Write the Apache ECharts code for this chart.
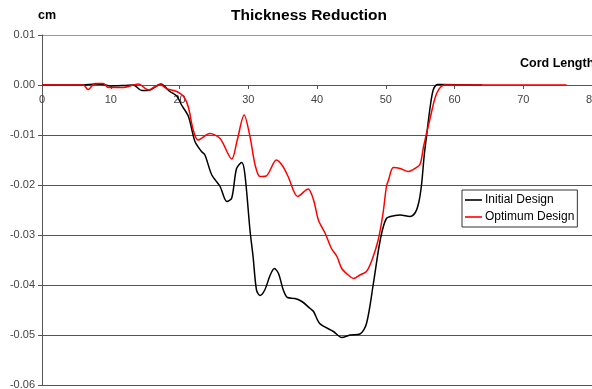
<!DOCTYPE html>
<html>
<head>
<meta charset="utf-8">
<script src="https://cdn.jsdelivr.net/npm/echarts@6/dist/echarts.min.js"></script>
<style>
  html, body { margin: 0; padding: 0; background: #fff; }
  #chart { width: 592px; height: 389px; }
</style>
</head>
<body>
<div id="chart"></div>
<script>
// Cord length positions and thickness reduction (cm) for each design
const initialX = [0, 6, 7.7, 9.0, 9.9, 12, 13.3, 14.5, 15.7, 16.9, 17.3, 18.6, 19.6, 20.3, 21.3, 22.25, 23.2, 23.7, 24.7, 25.9, 26.9, 27.6, 28.3, 29.05, 29.5, 30.25, 30.7, 31.2, 31.7, 32.4, 33.2, 33.8, 34.4, 35.1, 35.7, 36.8, 37.8, 39, 39.5, 40.4, 42.4, 43.6, 44.8, 46.25, 47.2, 48.2, 49.2, 50.1, 51.35, 52.1, 53.5, 54.3, 54.8, 55.2, 55.6, 55.95, 56.4, 56.9, 57.5, 58, 64];
const initialY = [0, 0, 0.0002, 0.0001, -0.0002, -0.0001, 0, -0.0011, -0.001, 0, 0.0002, -0.0013, -0.0022, -0.0040, -0.0063, -0.0113, -0.0133, -0.014, -0.018, -0.0203, -0.0233, -0.0226, -0.0167, -0.0155, -0.0177, -0.029, -0.0343, -0.041, -0.0421, -0.041, -0.038, -0.0367, -0.0377, -0.041, -0.0425, -0.0427, -0.0433, -0.0447, -0.0453, -0.0477, -0.0493, -0.0505, -0.0500, -0.0498, -0.0477, -0.0397, -0.031, -0.0267, -0.0261, -0.026, -0.0263, -0.0255, -0.0235, -0.02, -0.014, -0.01, -0.005, -0.001, 0.0001, 0.0001, 0];

const optimumX = [0, 6.0, 6.7, 7.7, 8.9, 9.65, 11.8, 13.3, 14.0, 15.5, 16.2, 17.2, 18.1, 19.6, 20.6, 21.3, 22.0, 22.7, 24.4, 25.9, 27.6, 28.4, 29.4, 30.25, 31.0, 31.7, 32.6, 34.1, 35.0, 35.8, 37.2, 38.7, 39.5, 40.2, 41.2, 42.1, 42.9, 43.6, 44.55, 45.3, 46.25, 47.2, 48, 48.9, 49.6, 50.1, 50.4, 51.1, 52.1, 53.3, 54.25, 55, 55.5, 56.4, 57.4, 58.6, 76.3];
const optimumY = [0, 0, -0.0009, 0.0003, 0.0003, -0.0005, -0.0005, 0, 0.0002, -0.001, -0.0005, 0.0001, -0.0007, -0.0013, -0.0023, -0.0045, -0.009, -0.011, -0.0097, -0.0107, -0.0148, -0.011, -0.006, -0.0103, -0.016, -0.0183, -0.0182, -0.015, -0.0162, -0.0183, -0.0223, -0.0208, -0.023, -0.027, -0.0297, -0.0327, -0.0343, -0.0367, -0.038, -0.0387, -0.038, -0.0373, -0.035, -0.031, -0.0257, -0.0203, -0.019, -0.0165, -0.0167, -0.0173, -0.0167, -0.0158, -0.0123, -0.007, -0.0017, 0, 0];

const seriesNames = ['Initial Design', 'Optimum Design'];
const xTicks = { min: 0, max: 80, step: 10 };
const yTicks = { min: -0.06, max: 0.01, step: 0.01 };

const pairs = (xs, ys) => xs.map((x, i) => [x, ys[i]]);

const FONT = '"Liberation Sans", Arial, sans-serif';
const GRID = { left: 42, top: 35, width: 550, height: 350 };
// the cord-length axis sits on the zero line: 0.00 lies 0.01 below the top edge
const zeroOffset = -GRID.height * (0 - yTicks.min) / (yTicks.max - yTicks.min);

const chart = echarts.init(document.getElementById('chart'), null, { renderer: 'canvas' });

chart.setOption({
  animation: false,
  backgroundColor: '#ffffff',
  textStyle: { fontFamily: FONT },
  title: [
    {
      text: 'Thickness Reduction',
      left: 304, top: 3, textAlign: 'center',
      textStyle: { fontFamily: FONT, fontSize: 15.5, fontWeight: 'bold', color: '#000' }
    },
    {
      text: 'cm',
      left: 42, top: 4, textAlign: 'center',
      textStyle: { fontFamily: FONT, fontSize: 12.5, fontWeight: 'bold', color: '#000' }
    },
    {
      text: 'Cord Length',
      left: 515, top: 52,
      textStyle: { fontFamily: FONT, fontSize: 12.5, fontWeight: 'bold', color: '#000' }
    }
  ],
  legend: {
    orient: 'vertical',
    left: 462, top: 190,
    data: seriesNames,
    icon: 'rect',
    itemWidth: 17, itemHeight: 1.6,
    itemGap: 3,
    padding: [3, 3, 3, 3],
    borderColor: '#333', borderWidth: 1,
    backgroundColor: '#fff',
    textStyle: { fontFamily: FONT, fontSize: 12, color: '#000', padding: [0, 0, 0, -2], lineHeight: 14 }
  },
  grid: Object.assign({ containLabel: false, outerBoundsMode: 'none' }, GRID),
  xAxis: {
    type: 'value',
    position: 'bottom',
    offset: zeroOffset,
    min: xTicks.min, max: xTicks.max, interval: xTicks.step,
    axisLine: { onZero: false, lineStyle: { color: '#555', width: 1 } },
    axisTick: { show: true, inside: false, length: 4, lineStyle: { color: '#555' } },
    axisLabel: { fontFamily: FONT, fontSize: 11, color: '#444', margin: 9, showMaxLabel: true, hideOverlap: false },
    splitLine: { show: false }
  },
  yAxis: {
    type: 'value',
    min: yTicks.min, max: yTicks.max, interval: yTicks.step,
    axisLine: { show: true, lineStyle: { color: '#555', width: 1 } },
    axisTick: { show: true, length: 4, lineStyle: { color: '#555' } },
    axisLabel: {
      fontFamily: FONT, fontSize: 11, color: '#444', margin: 7,
      formatter: v => (Math.abs(v) < 1e-9 ? 0 : v).toFixed(2)
    },
    splitLine: {
      show: true,
      lineStyle: { color: ['#555', '#555', '#555', '#555', '#555', '#555', '#555', '#999'], width: 1 }
    }
  },
  series: [
    {
      name: seriesNames[0],
      type: 'line',
      data: pairs(initialX, initialY),
      symbol: 'none',
      smooth: 0.3,
      lineStyle: { color: '#000', width: 1.5 },
      itemStyle: { color: '#000' },
      z: 2
    },
    {
      name: seriesNames[1],
      type: 'line',
      data: pairs(optimumX, optimumY),
      symbol: 'none',
      smooth: 0.3,
      lineStyle: { color: '#ff0000', width: 1.5 },
      itemStyle: { color: '#ff0000' },
      z: 3
    }
  ]
});
</script>
</body>
</html>
